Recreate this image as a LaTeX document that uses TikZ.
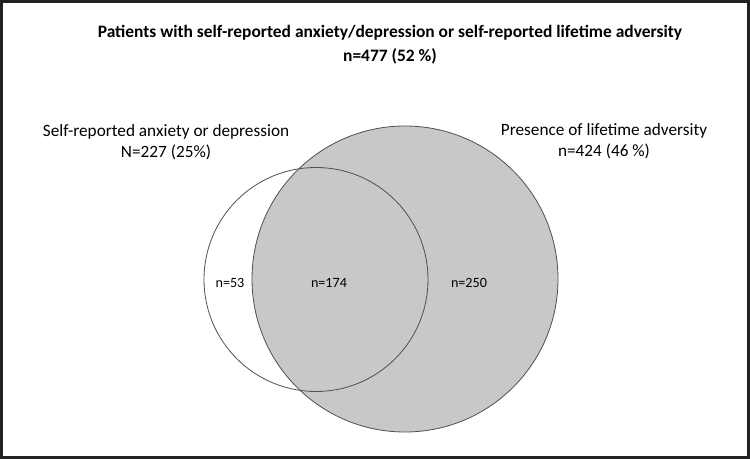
\documentclass[tikz,border=0pt]{standalone}
\usepackage{fontspec}
\setmainfont{Carlito}
\definecolor{VennGray}{RGB}{200,200,200}
\definecolor{VennLine}{RGB}{80,80,80}
\definecolor{FrameDark}{RGB}{34,34,34}

\begin{document}
\begin{tikzpicture}[
  x=1bp, y=-1bp,
  set/.style={circle, draw=VennLine, line width=0.8bp, inner sep=0pt},
  title/.style={align=center, font=\bfseries\fontsize{17.5}{24}\selectfont},
  setlabel/.style={align=center, font=\fontsize{17.3}{21.5}\selectfont},
  count/.style={font=\fontsize{14.2}{16}\selectfont}
]
\useasboundingbox (0,0) rectangle (750,459);

% Outer frame.
\draw[FrameDark, line width=3bp] (1.5,1.5) rectangle (748,457);

% The two sets: adversity (filled) below, anxiety/depression outline on top.
\node[set, fill=VennGray, minimum size=306bp] (adversity) at (405,279) {};
\node[set, minimum size=224bp] (anxiety) at (316,279.5) {};

% Headline.
\node[title] (header) at (390,45)
  {Patients with self-reported anxiety/depression or self-reported lifetime adversity\\n=477 (52 \%)};

% Set labels.
\node[setlabel] (anxietylabel) at (166,142)
  {Self-reported anxiety or depression\\N=227 (25\%)};
\node[setlabel] (adversitylabel) at (604,141)
  {Presence of lifetime adversity\\n=424 (46 \%)};

% Region counts.
\node[count] (onlyanxiety) at (230,283) {n=53};
\node[count] (both) at (329,283) {n=174};
\node[count] (onlyadversity) at (469,283) {n=250};

\end{tikzpicture}
\end{document}
